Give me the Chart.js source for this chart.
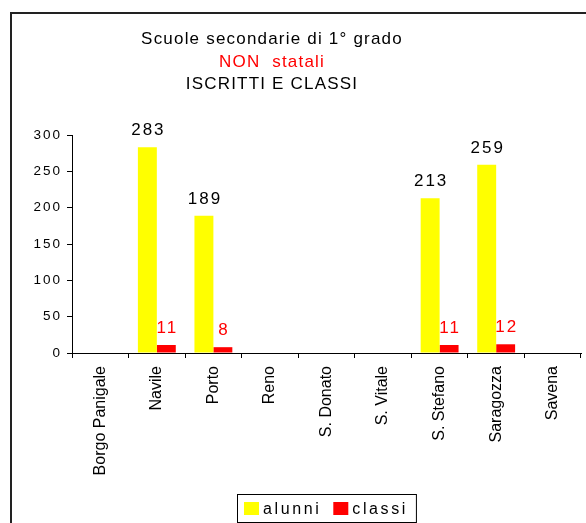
<!DOCTYPE html>
<html>
<head>
<meta charset="utf-8">
<script src="https://cdn.jsdelivr.net/npm/chart.js@4.4.1/dist/chart.umd.min.js"></script>
<style>
  html, body { margin: 0; padding: 0; background: #fff; overflow: hidden; }
  #frame { position: absolute; left: 10px; top: 12px; width: 700px; height: 600px;
           border-left: 2px solid #222; border-top: 2px solid #222; }
  #wrap { position: absolute; left: 0; top: 0; width: 586px; height: 523px; }
</style>
</head>
<body>
<div id="frame"></div>
<div id="wrap"><canvas id="chart"></canvas></div>
<script>
/* Dati */
const quartieri = ['Borgo Panigale', 'Navile', 'Porto', 'Reno', 'S. Donato', 'S. Vitale', 'S. Stefano', 'Saragozza', 'Savena'];
const alunni = [null, 283, 189, null, null, null, 213, 259, null];
const classi = [null, 11, 8, null, null, null, 11, 12, null];
const yTicks = [0, 50, 100, 150, 200, 250, 300];
const titolo = ['Scuole secondarie di 1° grado', 'NON  statali', 'ISCRITTI E CLASSI'];
const coloriTitolo = ['#000000', '#ff0000', '#000000'];

const FONT = '"Liberation Sans", Arial, sans-serif';
Chart.defaults.font.family = FONT;
Chart.defaults.color = '#000';

/* Titolo su tre righe, colori diversi */
const titoloPlugin = {
    id: 'titolo',
    afterDraw(chart) {
        const ctx = chart.ctx;
        ctx.save();
        ctx.font = '17px ' + FONT;
        ctx.letterSpacing = '1.2px';
        ctx.textAlign = 'center';
        ctx.textBaseline = 'alphabetic';
        titolo.forEach((riga, i) => {
            ctx.fillStyle = coloriTitolo[i];
            ctx.fillText(riga, 272, 44 + i * 22.5);
        });
        ctx.restore();
    }
};

/* Spaziatura delle etichette dell'asse y */
const spaziatura = {
    id: 'spaziatura',
    afterLayout(chart) {
        const y = chart.scales.y;
        if (y._spaziata) return;
        const draw = y.drawLabels;
        y.drawLabels = function (area) {
            this.ctx.save();
            this.ctx.letterSpacing = '2px';
            draw.call(this, area);
            this.ctx.restore();
        };
        y._spaziata = true;
    }
};

/* Valori sopra le barre */
const etichette = {
    id: 'etichette',
    afterDatasetsDraw(chart) {
        const ctx = chart.ctx;
        ctx.save();
        ctx.font = '17px ' + FONT;
        ctx.letterSpacing = '2px';
        ctx.textAlign = 'center';
        ctx.textBaseline = 'alphabetic';
        chart.data.datasets.forEach((ds, i) => {
            const meta = chart.getDatasetMeta(i);
            ctx.fillStyle = ds.labelColor;
            meta.data.forEach((bar, j) => {
                const v = ds.data[j];
                if (v == null) return;
                ctx.fillText(String(v), bar.x + 1, bar.y - 12);
            });
        });
        ctx.restore();
    }
};

/* Legenda in basso con cornice */
const legenda = {
    id: 'legenda',
    afterDraw(chart) {
        const ctx = chart.ctx;
        const a = chart.chartArea;
        ctx.save();
        ctx.font = '16px ' + FONT;
        ctx.letterSpacing = '2.6px';
        const items = chart.data.datasets.map(ds => ({
            text: ds.label,
            color: ds.backgroundColor,
            w: ctx.measureText(ds.label).width
        }));
        const box = 15, gap = 4, sep = 12, padL = 7, padR = 8, h = 28;
        const width = padL + padR + sep * (items.length - 1) +
            items.reduce((s, it) => s + box + gap + it.w, 0);
        let x = Math.round((a.left + a.right) / 2 - width / 2);
        const top = chart.height - 29;
        ctx.strokeStyle = '#000';
        ctx.lineWidth = 1;
        ctx.strokeRect(x + 0.5, top + 0.5, width, h);
        x += padL;
        ctx.textAlign = 'left';
        ctx.textBaseline = 'alphabetic';
        items.forEach(it => {
            ctx.fillStyle = it.color;
            ctx.fillRect(x, top + 8, box, 13);
            x += box + gap;
            ctx.fillStyle = '#000';
            ctx.fillText(it.text, x, top + 20);
            x += it.w + sep;
        });
        ctx.restore();
    }
};

new Chart(document.getElementById('chart').getContext('2d'), {
    type: 'bar',
    data: {
        labels: quartieri,
        datasets: [
            { label: 'alunni', data: alunni, backgroundColor: '#ffff00', borderWidth: 0, labelColor: '#000000' },
            { label: 'classi', data: classi, backgroundColor: '#ff0000', borderWidth: 0, labelColor: '#ff0000' }
        ]
    },
    options: {
        responsive: true,
        maintainAspectRatio: false,
        animation: false,
        layout: { padding: { top: 135, left: 0, right: 5, bottom: 40 } },
        datasets: { bar: { categoryPercentage: 0.67, barPercentage: 1 } },
        plugins: {
            legend: { display: false },
            title: { display: false },
            tooltip: { enabled: false }
        },
        scales: {
            x: {
                grid: { display: true, drawOnChartArea: false, offset: true, tickLength: 5, color: '#000' },
                border: { color: '#000', width: 1 },
                ticks: { maxRotation: 90, minRotation: 90, padding: 8, font: { size: 16 }, color: '#000' },
                afterFit: s => { s.height = 130; }
            },
            y: {
                min: yTicks[0],
                max: yTicks[yTicks.length - 1],
                afterBuildTicks: s => { s.ticks = yTicks.map(v => ({ value: v })); },
                grid: { display: true, drawOnChartArea: false, tickLength: 5, color: '#000' },
                border: { color: '#000', width: 1 },
                ticks: { padding: 5, font: { size: 13.5 }, color: '#000' },
                afterFit: s => { s.width = 72; }
            }
        }
    },
    plugins: [spaziatura, etichette, titoloPlugin, legenda]
});
</script>
</body>
</html>
